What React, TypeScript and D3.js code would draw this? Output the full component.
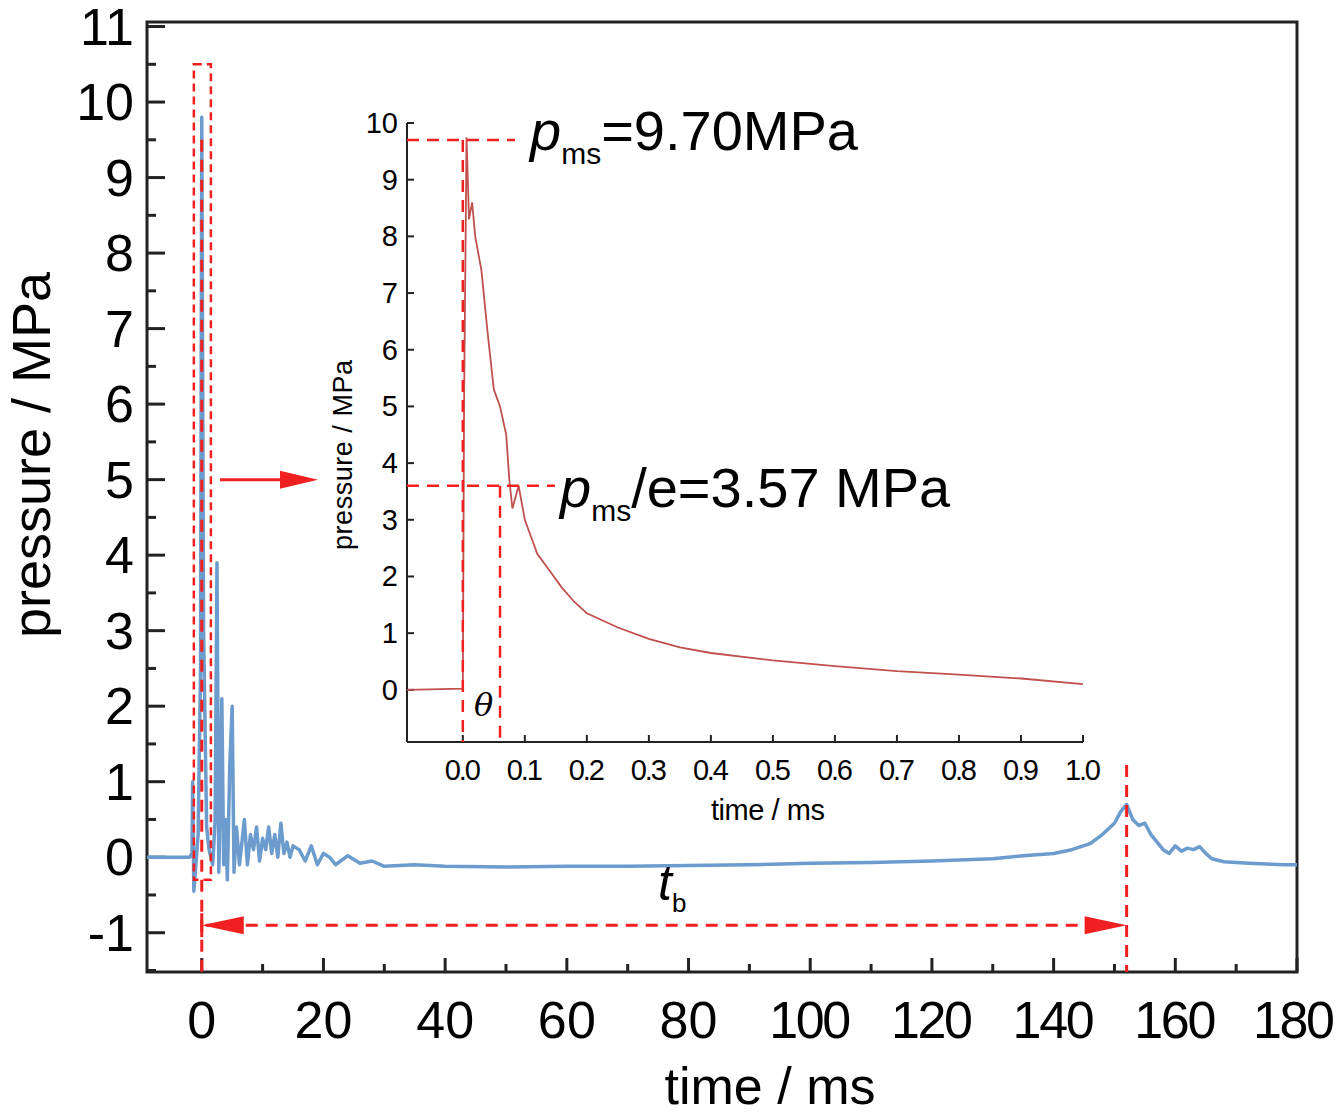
import * as d3 from "d3";

// main trace (time ms, pressure MPa)
const mainT = [-9, -2, -1.6, -1.5, -1.3, -0.6, -0.2, 0, 0.3, 0.8, 1.2, 1.8, 2.2, 2.5, 2.8, 3.0, 3.3, 3.6, 3.9, 4.2, 4.6, 5.0, 5.3, 5.7, 6.2, 6.6, 7.0, 7.5, 8.0, 8.5, 9.0, 9.5, 10, 10.5, 11, 11.5, 12, 12.5, 13, 13.5, 14, 14.5, 15, 16, 17, 18, 19, 20, 21, 22, 24, 26, 28, 30, 35, 40, 50, 60, 70, 80, 90, 100, 110, 120, 130, 135, 140, 143, 146, 148, 150, 151, 152, 153, 154, 155, 156, 157, 158, 159, 160, 161, 162, 163, 164, 165, 166, 168, 170, 172, 175, 178, 180];
const mainP = [0, 0, 0.05, 1.0, -0.45, 0.3, 2.5, 9.8, 3.0, 0.4, 0.1, -0.1, 0.5, 3.9, -0.2, 0.6, 2.1, -0.1, 0.5, -0.3, 1.2, 2.0, -0.2, 0.4, -0.1, 0.2, 0.5, -0.1, 0.3, 0.1, 0.4, -0.05, 0.25, 0.1, 0.4, 0.05, 0.3, 0.0, 0.45, 0.05, 0.2, 0.0, 0.15, 0.1, -0.05, 0.15, -0.1, 0.05, 0.0, -0.1, 0.02, -0.08, -0.05, -0.12, -0.1, -0.12, -0.13, -0.12, -0.12, -0.11, -0.1, -0.08, -0.07, -0.05, -0.02, 0.02, 0.05, 0.1, 0.18, 0.3, 0.45, 0.6, 0.7, 0.5, 0.42, 0.45, 0.3, 0.2, 0.1, 0.05, 0.15, 0.08, 0.12, 0.1, 0.14, 0.05, -0.02, -0.06, -0.07, -0.08, -0.09, -0.1, -0.1];

// inset trace
const insetT = [-0.09, 0.0, 0.002, 0.006, 0.01, 0.015, 0.02, 0.03, 0.04, 0.05, 0.06, 0.07, 0.075, 0.08, 0.09, 0.1, 0.11, 0.12, 0.14, 0.16, 0.18, 0.2, 0.25, 0.3, 0.35, 0.4, 0.5, 0.6, 0.7, 0.8, 0.9, 1.0];
const insetP = [0, 0.02, 5.0, 9.75, 8.3, 8.6, 8.0, 7.4, 6.3, 5.3, 5.0, 4.5, 3.7, 3.2, 3.6, 3.0, 2.7, 2.4, 2.1, 1.8, 1.55, 1.35, 1.1, 0.9, 0.75, 0.65, 0.52, 0.42, 0.33, 0.27, 0.2, 0.1];

const mainXTicks = d3.range(0, 181, 20);
const mainYTicks = d3.range(-1, 12, 1);
const insetXTicks = d3.range(0, 1.01, 0.1);
const insetYTicks = d3.range(0, 11, 1);

const F = "'Liberation Sans Narrow','Liberation Sans',Arial,sans-serif";

export default function App() {
  const x = d3.scaleLinear([-9, 180], [147, 1297]);
  const y = d3.scaleLinear([-1.52, 11.06], [972, 22]);
  const ix = d3.scaleLinear([-0.09, 1.0], [407, 1083]);
  const iy = d3.scaleLinear([-0.92, 10], [742, 123]);
  const line = d3.line<number>().x((_, i) => x(mainT[i])).y((d) => y(d));
  const iline = d3.line<number>().x((_, i) => ix(insetT[i])).y((d) => iy(d));
  const red = "#f02020";
  const dash = "12,8";
  return (
    <svg width={1342} height={1114} style={{ position: "absolute", left: 0, top: 0, background: "#fff" }}>
      {/* main frame */}
      <rect x={147} y={22} width={1150} height={950} fill="none" stroke="#222" strokeWidth={3} />
      {d3.range(0, 181, 10).map((v) => (
        <line key={"mx" + v} x1={x(v)} x2={x(v)} y1={972} y2={972 - (v % 20 === 0 ? 14 : 8)} stroke="#222" strokeWidth={3} />
      ))}
      {d3.range(-1.5, 11.01, 0.5).map((v) => (
        <line key={"my" + v} x1={147} x2={147 + (Number.isInteger(v) ? 18 : 9)} y1={y(v)} y2={y(v)} stroke="#222" strokeWidth={3} />
      ))}
      {mainXTicks.map((v) => (
        <text key={"tx" + v} x={v === 180 ? 1294 : x(v)} y={1038} textAnchor="middle" fontFamily={F} fontSize={52} textLength={v >= 100 ? 82 : v > 0 ? 58 : undefined}>{v}</text>
      ))}
      {mainYTicks.map((v) => (
        <text key={"ty" + v} x={134} y={y(v) + 18} textAnchor="end" fontFamily={F} fontSize={52}>{v}</text>
      ))}
      <text x={770} y={1104} textAnchor="middle" fontFamily={F} fontSize={52}>time / ms</text>
      <text transform={`translate(50,455) rotate(-90)`} textAnchor="middle" fontFamily={F} fontSize={54}>pressure / MPa</text>

      {/* inset background */}
      <rect x={325} y={82} width={900} height={750} fill="#fff" opacity={0.85} />

      <path d={line(mainP)!} fill="none" stroke="#6b9ccd" strokeWidth={3.5} strokeLinejoin="round" />

      {/* main annotations */}
      <rect x={x(-1.3)} y={y(10.5)} width={x(1.5) - x(-1.3)} height={y(-0.3) - y(10.5)} fill="none" stroke={red} strokeWidth={2.5} strokeDasharray="8,5" />
      <line x1={x(0)} x2={x(0)} y1={y(9.5)} y2={972} stroke={red} strokeWidth={3} strokeDasharray={dash} />
      <line x1={x(152)} x2={x(152)} y1={765} y2={972} stroke={red} strokeWidth={3} strokeDasharray={dash} />
      <line x1={x(0) + 4} x2={x(152) - 4} y1={y(-0.9)} y2={y(-0.9)} stroke={red} strokeWidth={3} strokeDasharray={dash} />
      <polygon points={`${x(0)},${y(-0.9)} ${x(0) + 42},${y(-0.9) - 9} ${x(0) + 42},${y(-0.9) + 9}`} fill={red} />
      <polygon points={`${x(152)},${y(-0.9)} ${x(152) - 42},${y(-0.9) - 9} ${x(152) - 42},${y(-0.9) + 9}`} fill={red} />
      <line x1={x(0)} x2={x(0)} y1={y(-0.9) - 12} y2={y(-0.9) + 12} stroke={red} strokeWidth={3} />
      <line x1={220} x2={285} y1={y(5)} y2={y(5)} stroke={red} strokeWidth={3} />
      <polygon points={`318,${y(5)} 280,${y(5) - 9} 280,${y(5) + 9}`} fill={red} />
      <text x={658} y={900} fontFamily={F} fontSize={50} fontStyle="italic">t<tspan fontSize={26} fontStyle="normal" dy={12}>b</tspan></text>

      {/* inset */}
      <line x1={407} x2={407} y1={123} y2={742} stroke="#222" strokeWidth={2} />
      <line x1={407} x2={1083} y1={742} y2={742} stroke="#222" strokeWidth={2} />
      {insetXTicks.map((v) => (
        <g key={"ix" + v}>
          <line x1={ix(v)} x2={ix(v)} y1={742} y2={735} stroke="#222" strokeWidth={2} />
          <text x={ix(v)} y={780} textAnchor="middle" fontFamily={F} fontSize={29} textLength={36}>{v.toFixed(1)}</text>
        </g>
      ))}
      {insetYTicks.map((v) => (
        <g key={"iy" + v}>
          <line x1={407} x2={414} y1={iy(v)} y2={iy(v)} stroke="#222" strokeWidth={2} />
          <text x={398} y={iy(v) + 10} textAnchor="end" fontFamily={F} fontSize={29}>{v}</text>
        </g>
      ))}
      <text x={768} y={820} textAnchor="middle" fontFamily={F} fontSize={29} textLength={114}>time / ms</text>
      <text transform="translate(352,455) rotate(-90)" textAnchor="middle" fontFamily={F} fontSize={27} textLength={190}>pressure / MPa</text>
      <path d={iline(insetP)!} fill="none" stroke="#c0504d" strokeWidth={1.8} />
      <line x1={407} x2={515} y1={iy(9.7)} y2={iy(9.7)} stroke={red} strokeWidth={2.5} strokeDasharray={dash} />
      <line x1={ix(0.0)} x2={ix(0.0)} y1={iy(9.7)} y2={742} stroke={red} strokeWidth={2.5} strokeDasharray={dash} />
      <line x1={407} x2={555} y1={iy(3.6)} y2={iy(3.6)} stroke={red} strokeWidth={2.5} strokeDasharray={dash} />
      <line x1={ix(0.06)} x2={ix(0.06)} y1={iy(3.6)} y2={742} stroke={red} strokeWidth={2.5} strokeDasharray={dash} />
      <text x={474} y={716} fontFamily="'DejaVu Serif',serif" fontStyle="italic" fontSize={32}>θ</text>
      <text x={530} y={150} fontFamily={F} fontSize={56}><tspan fontStyle="italic">p</tspan><tspan fontSize={30} dy={14}>ms</tspan><tspan dy={-14}>=9.70MPa</tspan></text>
      <text x={560} y={507} fontFamily={F} fontSize={56}><tspan fontStyle="italic">p</tspan><tspan fontSize={30} dy={14}>ms</tspan><tspan dy={-14}>/e=3.57 MPa</tspan></text>
    </svg>
  );
}
